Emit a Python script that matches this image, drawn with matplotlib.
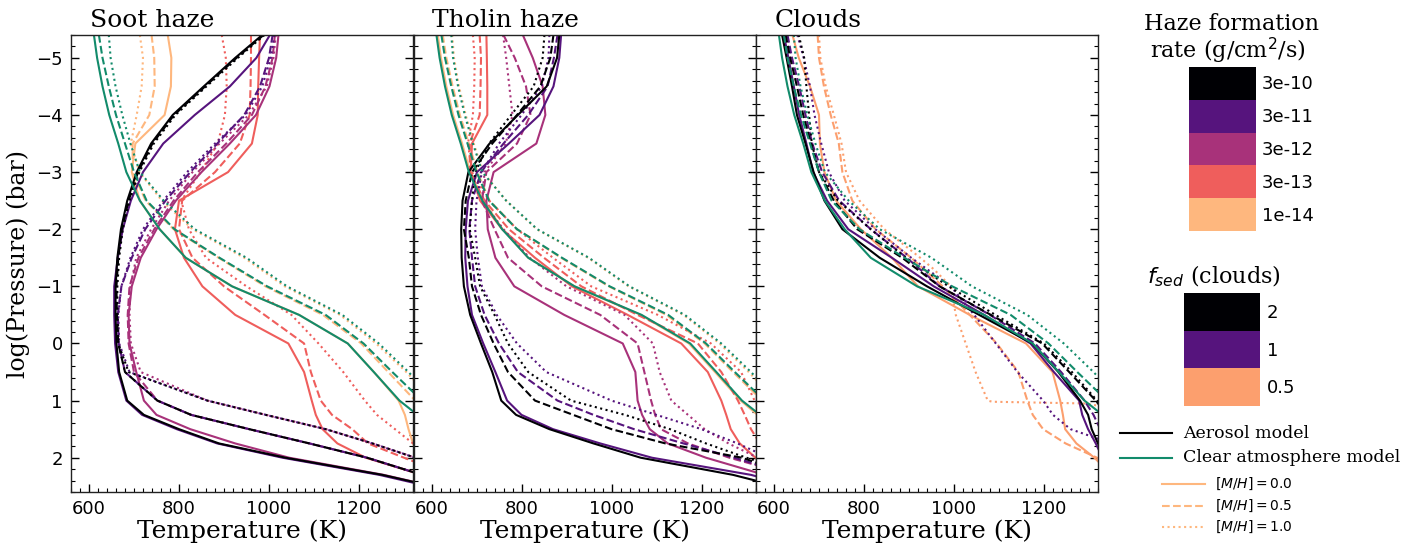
import matplotlib
matplotlib.use('Agg')
import matplotlib.pyplot as plt
from matplotlib.lines import Line2D
from matplotlib.patches import Rectangle
from matplotlib.ticker import MultipleLocator

# ---------------- data ----------------
LOGP = [-5.4, -5.0, -4.5, -4.0, -3.5, -3.0, -2.5, -2.0, -1.5, -1.0, -0.5, 0.0,
        0.5, 1.0, 1.25, 1.5, 1.75, 2.0, 2.3, 2.6]

MH_LABELS = ['0.0', '0.5', '1.0']
LINESTYLES = ['-', '--', ':']

HAZE_RATES = ['3e-10', '3e-11', '3e-12', '3e-13', '1e-14']
HAZE_COLORS = ['#000004', '#56147d', '#a8327a', '#ef5e5c', '#feb77e']
FSED_VALUES = ['2', '1', '0.5']
FSED_COLORS = ['#000004', '#56147d', '#fc9f6e']
CLEAR_COLOR = '#128b6b'

# clear atmosphere (same in every panel), T in K on LOGP
clear_mh00 = [611, 618, 630, 645, 665, 683, 713, 757, 815, 918, 1067, 1175, 1233, 1290, 1330, 1360, 1380, 1400, 1430, 1460]
clear_mh05 = [622, 630, 644, 660, 680, 700, 728, 790, 890, 996, 1126, 1210, 1274, 1340, 1370, 1390, 1410, 1430, 1460, 1490]
clear_mh10 = [644, 648, 659, 674, 692, 713, 766, 835, 950, 1040, 1163, 1244, 1310, 1370, 1400, 1420, 1440, 1460, 1480, 1500]

# soot haze
soot_3e10 = [[985, 925, 855, 786, 738, 706, 685, 671, 663, 659, 659, 661, 667, 685, 722, 800, 889, 1037, 1252, 1420],
             [988, 928, 858, 789, 741, 709, 688, 673, 665, 661, 662, 665, 680, 752, 827, 956, 1090, 1218, 1340, 1420],
             [990, 931, 861, 792, 744, 712, 690, 675, 667, 663, 663, 665, 688, 863, 993, 1126, 1230, 1325, 1400, 1480]]
soot_3e11 = [[1002, 972, 913, 835, 765, 720, 693, 675, 664, 656, 656, 658, 665, 683, 718, 795, 885, 1030, 1245, 1410],
             [1008, 1000, 980, 945, 885, 825, 770, 725, 695, 672, 664, 666, 680, 752, 827, 956, 1090, 1218, 1340, 1420],
             [1012, 1004, 985, 948, 880, 818, 765, 720, 692, 672, 665, 667, 690, 863, 993, 1126, 1230, 1325, 1400, 1480]]
soot_3e12 = [[1021, 1016, 1001, 971, 913, 850, 793, 750, 715, 695, 688, 690, 705, 722, 750, 825, 925, 1045, 1255, 1420],
             [1013, 1008, 992, 962, 905, 842, 788, 745, 710, 690, 686, 688, 700, 752, 827, 956, 1090, 1218, 1340, 1420],
             [1015, 1010, 995, 955, 890, 830, 778, 738, 705, 692, 690, 693, 715, 863, 993, 1126, 1230, 1325, 1400, 1480]]
soot_3e13 = [[980, 978, 976, 975, 962, 909, 800, 791, 811, 852, 925, 1043, 1078, 1095, 1104, 1119, 1152, 1215, 1340, 1420],
             [960, 960, 959, 957, 935, 880, 807, 800, 830, 900, 990, 1078, 1093, 1115, 1140, 1185, 1220, 1300, 1400, 1450],
             [895, 904, 906, 902, 886, 848, 805, 822, 860, 950, 1050, 1110, 1165, 1213, 1240, 1280, 1320, 1360, 1420, 1480]]
soot_1e14 = [[775, 783, 782, 768, 703, 695, 713, 757, 815, 918, 1067, 1175, 1233, 1288, 1302, 1310, 1320, 1335, 1360, 1400],
             [739, 745, 746, 734, 697, 697, 726, 788, 888, 992, 1120, 1205, 1265, 1325, 1350, 1370, 1390, 1410, 1440, 1480],
             [713, 720, 717, 706, 693, 712, 762, 830, 945, 1035, 1158, 1238, 1305, 1365, 1390, 1410, 1430, 1450, 1480, 1500]]

# tholin haze
tholin_3e10 = [[884, 879, 856, 792, 729, 682, 669, 666, 667, 672, 686, 710, 735, 755, 788, 862, 960, 1065, 1270, 1420],
               [871, 864, 842, 790, 735, 690, 676, 672, 683, 690, 710, 738, 770, 830, 915, 1000, 1120, 1290, 1400, 1450],
               [851, 847, 827, 777, 728, 697, 690, 685, 697, 708, 740, 770, 815, 910, 1030, 1130, 1210, 1300, 1420, 1480]]
tholin_3e11 = [[888, 884, 871, 840, 772, 701, 681, 676, 675, 680, 690, 715, 742, 768, 800, 870, 975, 1090, 1310, 1450],
               [880, 872, 858, 815, 760, 710, 690, 684, 690, 697, 718, 750, 792, 880, 960, 1050, 1160, 1273, 1400, 1450],
               [862, 860, 845, 800, 750, 712, 700, 697, 703, 712, 745, 790, 855, 1000, 1100, 1200, 1280, 1350, 1440, 1500]]
tholin_3e12 = [[803, 825, 847, 853, 833, 738, 722, 725, 742, 784, 895, 1025, 1053, 1058, 1068, 1085, 1125, 1210, 1340, 1420],
               [760, 785, 810, 820, 790, 722, 712, 740, 770, 845, 975, 1058, 1073, 1088, 1097, 1110, 1170, 1262, 1400, 1450],
               [759, 766, 773, 780, 765, 718, 712, 760, 818, 900, 1029, 1092, 1107, 1133, 1170, 1207, 1260, 1325, 1420, 1480]]
tholin_3e13 = [[722, 723, 724, 724, 690, 687, 708, 757, 830, 912, 1036, 1155, 1214, 1244, 1255, 1265, 1285, 1320, 1370, 1420],
               [707, 710, 709, 707, 685, 685, 718, 772, 850, 933, 1058, 1192, 1244, 1281, 1296, 1310, 1330, 1360, 1400, 1450],
               [692, 696, 695, 692, 681, 690, 728, 790, 870, 955, 1103, 1221, 1288, 1318, 1340, 1360, 1380, 1400, 1430, 1460]]
tholin_1e14 = [[614, 621, 633, 648, 668, 686, 715, 758, 815, 918, 1065, 1172, 1230, 1287, 1325, 1355, 1380, 1400, 1430, 1460],
               [625, 633, 647, 663, 683, 702, 729, 790, 888, 994, 1122, 1207, 1270, 1335, 1365, 1390, 1410, 1430, 1460, 1490],
               [646, 650, 661, 676, 694, 714, 766, 834, 948, 1038, 1160, 1240, 1305, 1365, 1400, 1420, 1440, 1460, 1480, 1500]]

# clouds
cloud_2 = [[618, 628, 640, 651, 670, 688, 712, 752, 835, 940, 1056, 1174, 1232, 1280, 1298, 1306, 1320, 1335, 1350, 1365],
           [626, 636, 651, 665, 682, 700, 733, 785, 885, 968, 1082, 1196, 1256, 1315, 1340, 1360, 1380, 1400, 1430, 1460],
           [655, 667, 672, 678, 684, 700, 742, 815, 893, 988, 1092, 1200, 1262, 1318, 1345, 1365, 1385, 1405, 1430, 1460]]
cloud_1 = [[622, 632, 644, 656, 672, 687, 718, 765, 862, 955, 1067, 1170, 1222, 1278, 1285, 1298, 1315, 1330, 1345, 1360],
           [630, 640, 656, 670, 685, 707, 745, 815, 895, 968, 1080, 1180, 1238, 1290, 1310, 1325, 1340, 1360, 1400, 1450],
           [652, 666, 680, 690, 705, 722, 757, 825, 905, 993, 1045, 1093, 1141, 1198, 1220, 1259, 1350, 1400, 1450, 1500]]
cloud_05_mh00 = [641, 655, 680, 700, 702, 712, 738, 793, 862, 920, 1035, 1160, 1219, 1236, 1242, 1247, 1272, 1312, 1350, 1390]
cloud_05_mh05 = [697, 700, 711, 726, 744, 752, 774, 826, 905, 975, 1035, 1095, 1143, 1163, 1175, 1198, 1248, 1318, 1360, 1400]
cloud_05_mh10_logp = [-5.4, -5.0, -4.5, -4.0, -3.5, -3.0, -2.5, -2.0, -1.5, -1.3, -1.0, -0.5, 0.0, 0.5, 1.0, 1.02, 1.05, 1.1]
cloud_05_mh10_T = [700, 703, 715, 733, 750, 760, 790, 845, 925, 955, 993, 1004, 1026, 1048, 1075, 1085, 1290, 1330]

# ---------------- figure ----------------
W, H = 1422, 550
fig = plt.figure(figsize=(W / 100, H / 100), dpi=100)

SERIF = 'DejaVu Serif'
SANS = 'DejaVu Sans'

ax_left_px = [71, 413.5, 756]
ax_w_px = 342
ax_top_px, ax_bot_px = 35, 492
axes = []
for lp in ax_left_px:
    ax = fig.add_axes([lp / W, 1 - ax_bot_px / H, ax_w_px / W, (ax_bot_px - ax_top_px) / H])
    axes.append(ax)

LW = 1.5


def plot_set(ax, series_list, colors):
    for series, col in zip(series_list, colors):
        for temps, ls in zip(series, LINESTYLES):
            ax.plot(temps, LOGP, color=col, ls=ls, lw=LW)


def plot_clear(ax):
    for temps, ls in zip([clear_mh00, clear_mh05, clear_mh10], LINESTYLES):
        ax.plot(temps, LOGP, color=CLEAR_COLOR, ls=ls, lw=LW)


# Soot: draw from lowest rate to highest
plot_set(axes[0], [soot_1e14, soot_3e13, soot_3e12, soot_3e11, soot_3e10], HAZE_COLORS[::-1])
plot_clear(axes[0])
plot_set(axes[1], [tholin_1e14, tholin_3e13, tholin_3e12, tholin_3e11, tholin_3e10], HAZE_COLORS[::-1])
plot_clear(axes[1])
# clouds
ax3 = axes[2]
ax3.plot(cloud_05_mh00, LOGP, color=FSED_COLORS[2], ls='-', lw=LW)
ax3.plot(cloud_05_mh05, LOGP, color=FSED_COLORS[2], ls='--', lw=LW)
ax3.plot(cloud_05_mh10_T, cloud_05_mh10_logp, color=FSED_COLORS[2], ls=':', lw=LW)
plot_set(ax3, [cloud_1, cloud_2], [FSED_COLORS[1], FSED_COLORS[0]])
plot_clear(ax3)

titles = ['Soot haze', 'Tholin haze', 'Clouds']
for i, ax in enumerate(axes):
    ax.set_xlim(560, 1320)
    ax.set_ylim(2.6, -5.4)
    ax.xaxis.set_major_locator(MultipleLocator(200))
    ax.xaxis.set_minor_locator(MultipleLocator(20))
    ax.yaxis.set_major_locator(MultipleLocator(1))
    ax.yaxis.set_minor_locator(MultipleLocator(0.2))
    ax.tick_params(axis='both', which='both', direction='in', top=False, right=True,
                   labelsize=13, pad=6)
    ax.tick_params(which='major', length=6, width=1)
    ax.tick_params(which='minor', length=3, width=0.8)
    for lab in ax.get_xticklabels() + ax.get_yticklabels():
        lab.set_family(SANS)
    ax.set_xlabel('Temperature (K)', fontsize=18, family=SERIF, labelpad=1)
    ax.text(0.055, 1.018, titles[i], transform=ax.transAxes, fontsize=18,
            family=SERIF, ha='left', va='baseline')
    if i > 0:
        ax.tick_params(labelleft=False)
    for sp in ax.spines.values():
        sp.set_linewidth(1.0)
        sp.set_color('#222222')

axes[0].set_ylabel('log(Pressure) (bar)', fontsize=17, family=SERIF, labelpad=4)

# ---------------- legends (overlay in pixel coords) ----------------
lg = fig.add_axes([0, 0, 1, 1])
lg.set_xlim(0, W)
lg.set_ylim(H, 0)
lg.axis('off')

lg.text(1232, 30, 'Haze formation', fontsize=16, family=SERIF, ha='center', va='baseline')
lg.text(1228, 58, 'rate (g/cm$^2$/s)', fontsize=16, family=SERIF, ha='center', va='baseline')
box_x0, box_x1 = 1189, 1256
box_y0, box_y1 = 67, 231
bh = (box_y1 - box_y0) / len(HAZE_RATES)
for k, (lab, col) in enumerate(zip(HAZE_RATES, HAZE_COLORS)):
    y0 = box_y0 + k * bh
    lg.add_patch(Rectangle((box_x0, y0), box_x1 - box_x0, bh, facecolor=col, edgecolor='none'))
    lg.text(1262, y0 + bh / 2 + 1, lab, fontsize=13, family=SANS, ha='left', va='center')

lg.text(1214, 283, '$f_{sed}$ (clouds)', fontsize=16, family=SERIF, ha='center', va='baseline')
fb_x0, fb_x1 = 1184, 1260
fb_y0, fb_y1 = 293, 406
fh = (fb_y1 - fb_y0) / len(FSED_VALUES)
for k, (lab, col) in enumerate(zip(FSED_VALUES, FSED_COLORS)):
    y0 = fb_y0 + k * fh
    lg.add_patch(Rectangle((fb_x0, y0), fb_x1 - fb_x0, fh, facecolor=col, edgecolor='none'))
    lg.text(1267, y0 + fh / 2 + 1, lab, fontsize=13, family=SANS, ha='left', va='center')

lg.add_line(Line2D([1120, 1172], [433, 433], color='black', lw=LW))
lg.text(1183, 433, 'Aerosol model', fontsize=12.5, family=SERIF, ha='left', va='center')
lg.add_line(Line2D([1120, 1172], [458, 458], color=CLEAR_COLOR, lw=LW))
lg.text(1183, 458, 'Clear atmosphere model', fontsize=12.5, family=SERIF, ha='left', va='center')
for yy, ls, mh in zip([484, 506, 527], LINESTYLES, MH_LABELS):
    lg.add_line(Line2D([1162, 1205], [yy, yy], color=HAZE_COLORS[-1], ls=ls, lw=LW))
    lg.text(1215, yy, '$[M/H] = ' + mh + '$', fontsize=10, ha='left', va='center')

fig.savefig('out.png', dpi=100)
